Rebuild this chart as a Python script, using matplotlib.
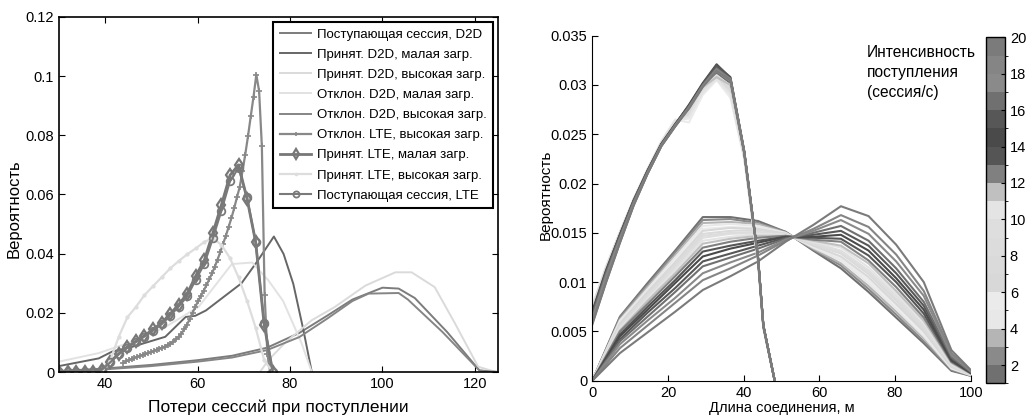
import matplotlib
matplotlib.use('Agg')
import matplotlib.pyplot as plt
import numpy as np
from matplotlib.colors import ListedColormap, BoundaryNorm
from matplotlib.cm import ScalarMappable
from matplotlib.ticker import FuncFormatter

plt.rcParams['font.family'] = ['Liberation Sans', 'DejaVu Sans']

# ---------------- LEFT PANEL DATA ----------------
left_xticks = [40, 60, 80, 100, 120]
left_yticks = [0, 0.02, 0.04, 0.06, 0.08, 0.1, 0.12]

labels_left = ["Поступающая сессия, D2D", "Принят. D2D, малая загр.",
               "Принят. D2D, высокая загр.", "Отклон. D2D, малая загр.",
               "Отклон. D2D, высокая загр.", "Отклон. LTE, высокая загр.",
               "Принят. LTE, малая загр.", "Принят. LTE, высокая загр.",
               "Поступающая сессия, LTE"]

d2d_in_x = [30, 40, 50, 60, 67.5, 75, 82, 88, 93.5, 100, 103.5, 107, 114, 121, 125]
d2d_in_y = [0.0003, 0.0012, 0.0024, 0.0040, 0.0055, 0.0082, 0.0132, 0.0190, 0.0245,
            0.0285, 0.0282, 0.0250, 0.0135, 0.0005, 0.0]

d2d_acc_low_x = [30, 38.6, 41.5, 45.8, 53, 57.4, 59.5, 61.8, 69.5, 73, 76.5, 78.6, 80.7, 82.9, 84.7]
d2d_acc_low_y = [0.0020, 0.0046, 0.0069, 0.0085, 0.0119, 0.0186, 0.0190, 0.0208, 0.0300,
                 0.0376, 0.0458, 0.0399, 0.0298, 0.0141, 0.0]

d2d_acc_high_x = [30, 73.5, 75.3, 79, 84.7, 89.7, 96.3, 102.8, 106.3, 111.3, 115.7, 120.7, 124.5]
d2d_acc_high_y = [0.0, 0.0, 0.0040, 0.0100, 0.0175, 0.0220, 0.0292, 0.0337, 0.0337, 0.0287,
                  0.0164, 0.0018, 0.0]

d2d_rej_low_x = [30, 38.6, 45.7, 53, 60.2, 67.4, 71.8, 75.3, 78.5, 82.5, 84.7]
d2d_rej_low_y = [0.0035, 0.0064, 0.0102, 0.0152, 0.0220, 0.0365, 0.0370, 0.0310, 0.0240,
                 0.0097, 0.0]

d2d_rej_high_x = [30, 40, 50, 60, 67.5, 75, 82, 88, 93.5, 97, 103.5, 105.5, 113, 121, 125]
d2d_rej_high_y = [0.0002, 0.0009, 0.0020, 0.0035, 0.0049, 0.0074, 0.0118, 0.0180, 0.0240,
                  0.0265, 0.0267, 0.0245, 0.0135, 0.0005, 0.0]

lte_rej_high_x = [43.9, 44.5, 45.1, 45.7, 46.3, 46.9, 47.5, 48.1, 48.7, 49.3, 49.9, 50.5,
                  51.1, 51.7, 52.3, 52.9, 53.5, 54.1, 54.7, 55.3, 55.9, 56.5, 57.1, 57.7,
                  58.3, 58.9, 59.5, 60.1, 60.7, 61.3, 61.9, 62.5, 63.1, 63.7, 64.3, 64.9,
                  65.5, 66.1, 66.7, 67.3, 67.9, 68.5, 69.1, 69.7, 70.3, 70.9, 71.5, 72.1,
                  72.7, 73.3, 73.9, 74.5, 75.1, 75.7]
lte_rej_high_y = [0.0030, 0.0036, 0.0040, 0.0044, 0.0048, 0.0051, 0.0055, 0.0058, 0.0061,
                  0.0064, 0.0067, 0.0071, 0.0075, 0.0079, 0.0082, 0.0086, 0.0090, 0.0096,
                  0.0103, 0.0110, 0.0119, 0.0130, 0.0144, 0.0160, 0.0180, 0.0200, 0.0220,
                  0.0240, 0.0257, 0.0275, 0.0293, 0.0313, 0.0333, 0.0355, 0.0380, 0.0405,
                  0.0433, 0.0460, 0.0490, 0.0520, 0.0553, 0.0590, 0.0625, 0.0678, 0.0735,
                  0.0797, 0.0865, 0.0931, 0.1005, 0.0950, 0.0763, 0.0260, 0.0060, 0.0]

lte_x = [30, 31.85, 33.7, 35.55, 37.4, 39.25, 41.1, 42.95, 44.8, 46.65, 48.5, 50.35, 52.2,
         54.05, 55.9, 57.75, 59.6, 61.45, 63.3, 65.15, 67, 68.85, 70.7, 72.55, 74.4, 76.25]
lte_acc_low_y = [0, 0, 0, 0, 0, 0.0008, 0.0035, 0.0062, 0.0085, 0.0104, 0.0123, 0.0144,
                 0.0166, 0.0196, 0.0228, 0.0265, 0.0325, 0.0378, 0.0470, 0.0565, 0.0665,
                 0.0700, 0.0585, 0.0440, 0.0160, 0.0]
lte_in_y = [0, 0, 0, 0, 0, 0.0007, 0.0033, 0.0060, 0.0082, 0.0101, 0.0120, 0.0140, 0.0161,
            0.0190, 0.0221, 0.0256, 0.0312, 0.0365, 0.0452, 0.0545, 0.0645, 0.0690, 0.0590,
            0.0440, 0.0165, 0.0]

lte_acc_high_x = [39.25, 41.1, 42.95, 44.8, 46.65, 48.5, 50.35, 52.2, 54.05, 55.9, 57.75,
                  59.6, 61.45, 63.3, 65.15, 67, 68.85, 70.7, 72.55, 74.4, 76.25]
lte_acc_high_y = [0.0, 0.0040, 0.0120, 0.0185, 0.0220, 0.0260, 0.0290, 0.0320, 0.0350,
                  0.0375, 0.0398, 0.0418, 0.0440, 0.0452, 0.0430, 0.0385, 0.0320, 0.0240,
                  0.0150, 0.0040, 0.0]

# ---------------- RIGHT PANEL DATA ----------------
right_xticks = [0, 20, 40, 60, 80, 100]
right_yticks = [0, 0.005, 0.01, 0.015, 0.02, 0.025, 0.03, 0.035]
intensity_bounds = list(range(1, 21))
intensity_ticks = [2, 4, 6, 8, 10, 12, 14, 16, 18, 20]
intensity_colors = ['#707070', '#8a8a8a', '#b5b5b5', '#e8e8e8', '#ebebeb', '#d8d8d8',
                    '#dadada', '#dcdcdc', '#dedede', '#e4e4e4', '#c0c0c0', '#808080',
                    '#555555', '#4a4a4a', '#575757', '#707070', '#8a8a8a', '#858585',
                    '#7b7b7b']

# short-range curves (values in units of 1e-4), one row per intensity 1..19
xa = [0, 3.65, 7.3, 10.95, 14.6, 18.25, 21.9, 25.55, 29.2, 32.85, 36.5, 40.15, 43.8, 45.2, 48.2]
ya_e4 = [
    [58, 100, 140, 178, 210, 238, 258, 276, 298, 312, 302, 230, 124, 56, 0],
    [62, 104, 143, 180, 211, 239, 259, 277, 299, 314, 304, 231, 124, 56, 0],
    [66, 107, 145, 181, 212, 240, 261, 276, 297, 309, 298, 228, 122, 55, 0],
    [74, 115, 150, 184, 214, 242, 264, 266, 292, 306, 290, 226, 121, 54, 0],
    [76, 116, 151, 185, 215, 243, 265, 262, 290, 305, 287, 225, 120, 53, 0],
    [75, 115, 150, 184, 214, 242, 263, 270, 293, 307, 292, 227, 121, 54, 0],
    [74, 114, 150, 184, 214, 241, 262, 272, 295, 308, 295, 228, 122, 54, 0],
    [73, 114, 149, 183, 213, 241, 262, 274, 296, 309, 297, 229, 122, 55, 0],
    [73, 113, 149, 183, 213, 241, 261, 275, 297, 310, 299, 229, 123, 55, 0],
    [75, 115, 150, 184, 214, 242, 263, 268, 293, 306, 291, 227, 121, 54, 0],
    [72, 113, 149, 183, 213, 241, 261, 276, 298, 308, 300, 230, 123, 55, 0],
    [68, 110, 147, 182, 212, 240, 260, 278, 300, 315, 305, 231, 124, 56, 0],
    [69, 111, 148, 183, 213, 240, 260, 279, 301, 318, 306, 232, 125, 56, 0],
    [70, 112, 148, 183, 213, 240, 260, 280, 302, 321, 307, 233, 125, 56, 0],
    [69, 111, 148, 183, 213, 240, 260, 279, 301, 320, 308, 233, 125, 56, 0],
    [66, 109, 146, 182, 212, 239, 259, 278, 300, 317, 306, 232, 125, 56, 0],
    [63, 106, 144, 180, 211, 239, 259, 277, 299, 315, 305, 232, 124, 56, 0],
    [60, 103, 142, 179, 210, 238, 258, 277, 299, 316, 306, 232, 124, 56, 0],
    [57, 100, 140, 178, 210, 238, 258, 276, 298, 314, 305, 231, 124, 56, 0],
]

# full-range curves (values in units of 1e-4), one row per intensity 1..19
xb = [0, 7.3, 14.6, 21.9, 29.2, 36.5, 43.8, 51.1, 58.4, 65.7, 73, 80.3, 87.6, 94.9, 100]
yb_e4 = [
    [0, 65, 99, 132, 166, 166, 162, 151, 132, 114, 90, 64, 38, 10, 5],
    [0, 64, 97, 130, 163, 164, 160, 151, 133, 117, 93, 67, 40, 11, 5],
    [0, 62, 95, 127, 160, 161, 159, 150, 134, 119, 96, 70, 43, 12, 5.5],
    [0, 61, 93, 125, 157, 159, 157, 150, 135, 122, 99, 73, 45, 12.5, 5.7],
    [0, 59, 91, 122, 154, 156, 155, 149, 136, 124, 102, 76, 48, 13, 6],
    [0, 58, 90, 120, 152, 155, 154, 149, 137, 126, 105, 78, 50, 14, 6],
    [0, 56, 88, 118, 149, 152, 153, 149, 138, 129, 108, 81, 52, 15, 6],
    [0, 55, 86, 116, 147, 150, 151, 148, 139, 130, 110, 83, 54, 15.5, 6.6],
    [0, 54, 85, 114, 145, 149, 150, 148, 140, 132, 112, 86, 56, 16, 7],
    [0, 53, 83, 112, 142, 146, 149, 148, 141, 135, 115, 88, 59, 17, 7],
    [0, 51, 81, 109, 139, 144, 147, 147, 142, 137, 119, 91, 61, 18, 7],
    [0, 50, 78, 106, 135, 141, 145, 147, 143, 141, 122, 95, 64, 19, 7.5],
    [0, 47, 75, 102, 131, 137, 142, 146, 145, 144, 127, 100, 68, 20, 8],
    [0, 45, 72, 99, 126, 134, 140, 146, 146, 148, 132, 104, 72, 21, 8],
    [0, 42, 69, 94, 121, 129, 137, 145, 148, 152, 137, 109, 76, 23, 9],
    [0, 40, 65, 90, 116, 125, 134, 144, 150, 157, 142, 114, 80, 24, 9],
    [0, 37, 61, 84, 109, 120, 130, 143, 152, 163, 149, 121, 86, 26, 10],
    [0, 33, 56, 79, 102, 114, 127, 142, 154, 168, 156, 128, 91, 28, 10],
    [0, 28, 49, 70, 92, 106, 121, 141, 158, 177, 167, 138, 100, 31, 11],
]

# ---------------- FIGURE ----------------
W, H = 1027, 419
fig = plt.figure(figsize=(W / 100, H / 100), dpi=100)
fmt = FuncFormatter(lambda v, p: '%g' % round(v, 6))

# Left panel
ax1 = fig.add_axes([59 / W, 1 - 372 / H, 439 / W, 355 / H])
ax1.plot(d2d_in_x, d2d_in_y, color='#7c7c7c', lw=1.4, label=labels_left[0])
ax1.plot(d2d_acc_low_x, d2d_acc_low_y, color='#666666', lw=1.4, label=labels_left[1])
ax1.plot(d2d_acc_high_x, d2d_acc_high_y, color='#dadada', lw=1.4, label=labels_left[2])
ax1.plot(d2d_rej_low_x, d2d_rej_low_y, color='#e2e2e2', lw=1.4, label=labels_left[3])
ax1.plot(d2d_rej_high_x, d2d_rej_high_y, color='#858585', lw=1.4, label=labels_left[4])
ax1.plot(lte_rej_high_x, lte_rej_high_y, color='#888888', lw=1.6, marker='+', ms=4,
         mew=1.2, label=labels_left[5])
ax1.plot(lte_x, lte_acc_low_y, color='#777777', lw=2.0, marker='d', ms=6.5, mfc='none',
         mew=1.6, label=labels_left[6])
ax1.plot(lte_acc_high_x, lte_acc_high_y, color='#dddddd', lw=1.6, marker='.', ms=4,
         label=labels_left[7])
ax1.plot(lte_x, lte_in_y, color='#7a7a7a', lw=1.5, marker='o', ms=5.5, mfc='none',
         mew=1.3, label=labels_left[8])

ax1.set_xlim(30, 125)
ax1.set_ylim(0, 0.12)
ax1.set_xticks(left_xticks)
ax1.set_yticks(left_yticks)
ax1.yaxis.set_major_formatter(fmt)
ax1.tick_params(direction='in', top=True, right=True, labelsize=10.5, length=4, width=0.8)
for s in ax1.spines.values():
    s.set_linewidth(1.2)
ax1.set_xlabel("Потери сессий при поступлении", fontsize=12.5)
ax1.set_ylabel("Вероятность", fontsize=12)
ax1.xaxis.set_label_coords(0.5, -0.078)
ax1.yaxis.set_label_coords(-0.085, 0.46)
leg = ax1.legend(loc='upper right', bbox_to_anchor=(493 / W, 1 - 21.7 / H),
                 bbox_transform=fig.transFigure, borderaxespad=0, fontsize=9.5,
                 frameon=True, fancybox=False, framealpha=1, edgecolor='black',
                 labelspacing=0.6, handlelength=2.4, handletextpad=0.4,
                 borderpad=0.5, markerscale=0.8)
leg.get_frame().set_linewidth(1.5)

# Right panel
ax2 = fig.add_axes([592.3 / W, 1 - 380.7 / H, 378.4 / W, 345 / H])
for i in range(len(yb_e4)):
    ax2.plot(xb, np.array(yb_e4[i]) * 1e-4, color=intensity_colors[i], lw=1.5)
for i in range(len(ya_e4)):
    ax2.plot(xa, np.array(ya_e4[i]) * 1e-4, color=intensity_colors[i], lw=1.5)
ax2.set_xlim(0, 100)
ax2.set_ylim(0, 0.035)
ax2.set_xticks(right_xticks)
ax2.set_yticks(right_yticks)
ax2.yaxis.set_major_formatter(fmt)
ax2.spines['top'].set_visible(False)
ax2.spines['right'].set_visible(False)
ax2.tick_params(direction='in', labelsize=10.5, length=4, width=0.8)
ax2.set_xlabel("Длина соединения, м", fontsize=10.5)
ax2.set_ylabel("Вероятность", fontsize=11)
ax2.xaxis.set_label_coords(0.5, -0.06)
ax2.yaxis.set_label_coords(-0.105, 0.54)

# Colorbar
cax = fig.add_axes([985.7 / W, 1 - 383.3 / H, 19.3 / W, 346 / H])
cmap = ListedColormap(intensity_colors)
norm = BoundaryNorm(intensity_bounds, cmap.N)
sm = ScalarMappable(norm=norm, cmap=cmap)
cb = fig.colorbar(sm, cax=cax, ticks=intensity_ticks)
cb.outline.set_linewidth(1.0)
cb.ax.tick_params(direction='in', labelsize=10.5, length=3, width=0.8)

fig.text(866.7 / W, 1 - 45 / H, "Интенсивность\nпоступления\n(сессия/с)",
         ha='left', va='top', fontsize=11.2, linespacing=1.4)

fig.savefig('out.png', dpi=100)
